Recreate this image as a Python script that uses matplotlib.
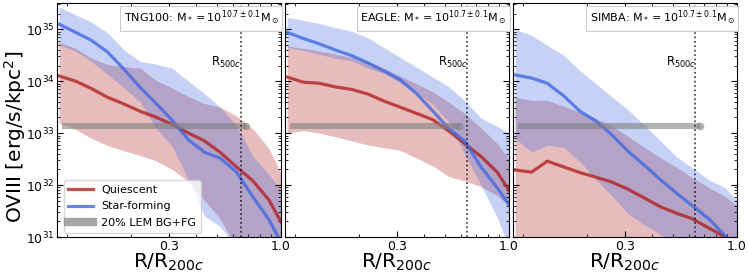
import matplotlib
matplotlib.use("Agg")
import matplotlib.pyplot as plt
import numpy as np
from matplotlib.lines import Line2D
from matplotlib.ticker import NullFormatter

# radial grid (R / R200c), shared by all panels
radius = [0.092, 0.11, 0.13, 0.155, 0.185, 0.22, 0.26, 0.31, 0.37, 0.44, 0.52, 0.62, 0.74, 0.88, 1.0]

sims = ["TNG100", "EAGLE", "SIMBA"]
r500 = [0.65, 0.64, 0.64]
lem_end = [0.686, 0.584, 0.671]
lem_level = 1.4e33

# log10 surface brightness [erg/s/kpc^2]
sf_med = {
    "TNG100": [35.10, 34.94, 34.79, 34.56, 34.23, 33.88, 33.58, 33.25, 32.87, 32.63, 32.52, 32.25, 31.77, 31.33, 30.9],
    "EAGLE": [34.94, 34.82, 34.72, 34.60, 34.49, 34.35, 34.20, 34.03, 33.76, 33.43, 33.10, 32.85, 32.35, 31.95, 31.62],
    "SIMBA": [34.12, 34.06, 33.96, 33.72, 33.42, 33.23, 32.97, 32.65, 32.38, 32.10, 31.85, 31.60, 31.35, 31.02, 30.8],
}
sf_hi = {
    "TNG100": [35.43, 35.28, 35.14, 34.93, 34.60, 34.38, 34.33, 34.25, 34.00, 33.76, 33.50, 33.15, 32.55, 32.20, 31.9],
    "EAGLE": [35.23, 35.17, 35.11, 35.03, 34.96, 34.83, 34.65, 34.46, 34.27, 34.08, 33.90, 33.63, 33.29, 33.13, 33.0],
    "SIMBA": [35.00, 34.88, 34.69, 34.50, 34.20, 33.95, 33.70, 33.45, 33.15, 32.85, 32.55, 32.33, 32.10, 31.95, 31.7],
}
sf_lo = {
    "TNG100": [34.70, 34.58, 34.38, 34.13, 33.87, 33.60, 33.10, 32.75, 32.10, 31.40, 31.20, 30.80, 30.50, 30.30, 30.2],
    "EAGLE": [34.65, 34.59, 34.52, 34.44, 34.39, 34.25, 34.15, 33.97, 33.78, 33.56, 33.23, 32.60, 32.00, 31.38, 30.8],
    "SIMBA": [32.90, 32.63, 32.77, 32.73, 32.45, 32.10, 31.80, 31.45, 31.23, 31.05, 30.80, 30.60, 30.40, 30.30, 30.2],
}
q_med = {
    "TNG100": [34.10, 34.00, 33.86, 33.69, 33.56, 33.42, 33.31, 33.17, 33.00, 32.85, 32.63, 32.35, 32.08, 31.71, 31.29],
    "EAGLE": [34.08, 33.98, 33.96, 33.89, 33.84, 33.75, 33.62, 33.50, 33.38, 33.26, 33.05, 32.80, 32.55, 32.25, 31.9],
    "SIMBA": [32.29, 32.25, 32.46, 32.35, 32.24, 32.15, 32.06, 31.92, 31.75, 31.58, 31.46, 31.35, 31.17, 31.00, 30.85],
}
q_hi = {
    "TNG100": [34.75, 34.63, 34.45, 34.32, 34.28, 34.25, 34.02, 33.87, 33.70, 33.57, 33.50, 33.33, 33.08, 32.70, 32.23],
    "EAGLE": [34.68, 34.63, 34.58, 34.52, 34.46, 34.38, 34.25, 34.10, 33.95, 33.80, 33.60, 33.38, 33.10, 32.80, 32.5],
    "SIMBA": [33.69, 33.63, 33.63, 33.52, 33.40, 33.28, 33.14, 32.94, 32.72, 32.52, 32.35, 32.14, 31.95, 31.78, 31.6],
}
q_lo = {
    "TNG100": [33.20, 33.07, 32.90, 32.76, 32.66, 32.57, 32.47, 32.30, 32.07, 31.70, 31.35, 30.80, 30.50, 30.30, 30.2],
    "EAGLE": [33.00, 33.05, 33.00, 32.93, 32.85, 32.77, 32.72, 32.67, 32.52, 32.37, 32.17, 32.08, 31.97, 31.80, 31.6],
    "SIMBA": [30.0] * 15,
}

RED = "firebrick"
BLUE = "royalblue"


def main() -> None:
    fig, axes = plt.subplots(1, 3, figsize=(7.48, 2.74), dpi=100, sharey=True)
    fig.subplots_adjust(left=0.0762, right=0.9853, bottom=0.135, top=0.989, wspace=0.018)

    for i, (ax, sim) in enumerate(zip(axes, sims)):
        ax.fill_between(radius, 10 ** np.array(q_lo[sim]), 10 ** np.array(q_hi[sim]),
                        color=RED, alpha=0.3, lw=0)
        ax.fill_between(radius, 10 ** np.array(sf_lo[sim]), 10 ** np.array(sf_hi[sim]),
                        color=BLUE, alpha=0.3, lw=0)
        ax.plot(radius, 10 ** np.array(q_med[sim]), color=RED, lw=2.3, alpha=0.8)
        ax.plot(radius, 10 ** np.array(sf_med[sim]), color=BLUE, lw=2.3, alpha=0.8)

        ax.plot([0.095, lem_end[i]], [lem_level, lem_level], color="gray", lw=4.3, alpha=0.6,
                solid_capstyle="butt")
        ax.plot([lem_end[i]], [lem_level], "o", color="gray", ms=5.5, alpha=0.6, mew=0)

        ax.axvline(r500[i], color="k", ls=":", lw=1.2, alpha=0.8)
        ax.text(r500[i] * 1.005, 10 ** 34.37, r"R$_{500c}$", ha="right", va="center", fontsize=8.5)

        ax.text(0.99, 0.975, sim + r": M$_* = 10^{10.7\pm0.1}$M$_\odot$", transform=ax.transAxes,
                ha="right", va="top", fontsize=8,
                bbox=dict(boxstyle="square,pad=0.3", fc="white", ec="0.8", lw=0.8))

        ax.set_xscale("log")
        ax.set_yscale("log")
        ax.set_xlim(0.09, 1.0)
        ax.set_ylim(1e31, 3.2e35)
        ax.set_xticks([0.3, 1.0])
        ax.set_xticklabels(["0.3", "1.0"])
        ax.set_xticks([0.1, 0.2, 0.4, 0.5, 0.6, 0.7, 0.8, 0.9], minor=True)
        ax.xaxis.set_minor_formatter(NullFormatter())
        ax.tick_params(which="both", direction="in", top=True, right=True, labelsize=9, pad=2)
        ax.tick_params(which="major", length=4)
        ax.tick_params(which="minor", length=2)
        ax.set_xlabel(r"R/R$_{200c}$", fontsize=14.5, labelpad=-0.5)

    axes[0].set_ylabel(r"OVIII [erg/s/kpc$^2$]", fontsize=14.5)
    axes[0].yaxis.set_label_coords(-0.13, 0.43)

    handles = [
        Line2D([], [], color=RED, lw=2.3, alpha=0.8),
        Line2D([], [], color=BLUE, lw=2.3, alpha=0.8),
        Line2D([], [], color="gray", lw=6, alpha=0.7),
    ]
    axes[0].legend(handles, ["Quiescent", "Star-forming", "20% LEM BG+FG"], loc="lower left",
                   fontsize=8, handlelength=2.2, labelspacing=0.6, borderaxespad=0.4,
                   bbox_to_anchor=(0.01, 0.0))

    fig.savefig("out.png", dpi=100)
    plt.close(fig)


if __name__ == "__main__":
    main()
